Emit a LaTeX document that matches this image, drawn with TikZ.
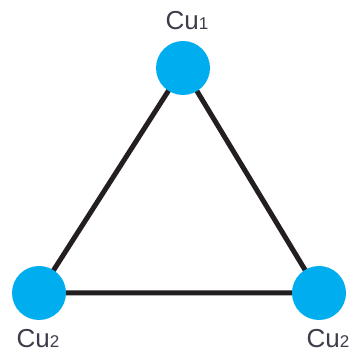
\documentclass[tikz,border=0pt]{standalone}
\usepackage{fontspec}
\setmainfont{Liberation Sans}
\definecolor{atomcyan}{HTML}{00AEEF}
\definecolor{bondblack}{HTML}{231F20}
\definecolor{labelgray}{HTML}{3C3C4A}
\begin{document}
\begin{tikzpicture}[x=1pt,y=1pt,
  atom/.style={circle,fill=atomcyan,minimum size=54pt,inner sep=0pt},
  bond/.style={draw=bondblack,line width=5pt},
  lbl/.style={text=labelgray,font=\fontsize{26}{28}\selectfont,inner sep=0pt,anchor=base}]
\useasboundingbox (0,0) rectangle (355,355);
\coordinate (ta) at (183,287);
\coordinate (la) at (39,62);
\coordinate (ra) at (319,62);
\draw[bond] (ta) -- (la) -- (ra) -- cycle;
\node[atom] (t) at (ta) {};
\node[atom] (l) at (la) {};
\node[atom] (r) at (ra) {};
\node[lbl] (tl) at (187,325) {Cu{\fontsize{17}{18}\selectfont 1}};
\node[lbl] (ll) at (38,8) {Cu{\fontsize{17}{18}\selectfont 2}};
\node[lbl] (rl) at (328,8) {Cu{\fontsize{17}{18}\selectfont 2}};
\end{tikzpicture}
\end{document}
